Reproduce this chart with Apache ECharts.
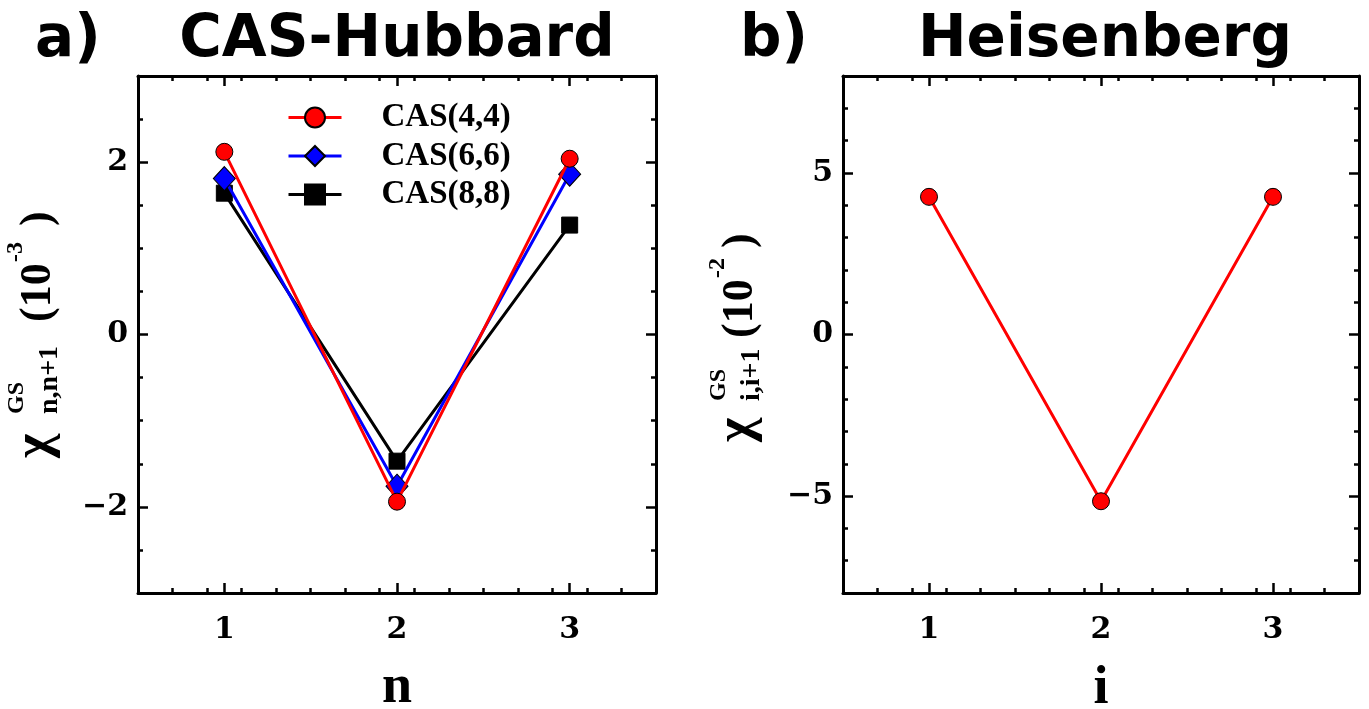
<!DOCTYPE html>
<html>
<head>
<meta charset="utf-8">
<script src="https://cdn.jsdelivr.net/npm/echarts@6/dist/echarts.min.js"></script>
<style>
html, body { margin: 0; padding: 0; background: #ffffff; }
#chart { width: 1369px; height: 709px; }
</style>
</head>
<body>
<div id="chart"></div>
<script>
// Site index along the chain
const sites = [1, 2, 3];

// Ground-state correlation, CAS-Hubbard (units of 1e-3)
const cas44 = [2.12, -1.94, 2.04];
const cas66 = [1.81, -1.76, 1.86];
const cas88 = [1.64, -1.47, 1.27];

// Ground-state correlation, Heisenberg (units of 1e-2)
const heisenberg = [4.26, -5.16, 4.26];

// Tick labels
const xTickValues = [1, 2, 3];
const yTickValuesA = [-2, 0, 2];
const yTickValuesB = [-5, 0, 5];

const legendNames = ['CAS(4,4)', 'CAS(6,6)', 'CAS(8,8)'];

const SERIF = 'Liberation Serif';
const TICKFONT = 'DejaVu Serif';
const SANS = 'DejaVu Sans';

function steps(min, max, step, skip) {
  const out = [];
  const n = Math.round((max - min) / step);
  for (let k = 1; k < n; k++) {
    const v = +(min + k * step).toFixed(6);
    if (!skip.some(s => Math.abs(s - v) < 1e-9)) out.push(v);
  }
  return out;
}

function fmt(v) {
  return v < 0 ? '\u2212' + Math.abs(v) : String(v);
}

// Four axes per direction and grid: major + minor ticks on both sides of the frame
function frameAxes(gridIndex, sides, min, max, major, minor, labelStyle, nameOpt) {
  const axes = [];
  sides.forEach((pos, si) => {
    [true, false].forEach(isMajor => {
      const ax = {
        type: 'value', gridIndex: gridIndex, position: pos, min: min, max: max,
        axisLine: { show: isMajor, onZero: false, lineStyle: { color: '#000', width: 3 } },
        axisTick: {
          show: true, inside: true, length: isMajor ? 10 : 5,
          customValues: isMajor ? major : minor,
          lineStyle: { color: '#000', width: 2.5 }
        },
        axisLabel: { show: false },
        splitLine: { show: false }
      };
      if (isMajor && si === 0) {
        ax.axisLabel = Object.assign({ show: true, customValues: major, formatter: fmt }, labelStyle);
        if (nameOpt) Object.assign(ax, nameOpt);
      }
      axes.push(ax);
    });
  });
  return axes;
}

const tickFont = { fontFamily: TICKFONT, fontWeight: 'bold', fontSize: 30, color: '#000' };
const nameFont = { fontFamily: SERIF, fontWeight: 'bold', fontSize: 54, color: '#000' };

const xMinor = steps(0.5, 3.5, 0.2, xTickValues);
const yMinorA = steps(-3, 3, 0.5, yTickValuesA);
const yMinorB = steps(-8, 8, 1, yTickValuesB);

const xAxes = [].concat(
  frameAxes(0, ['bottom', 'top'], 0.5, 3.5, xTickValues, xMinor,
    Object.assign({ margin: 22 }, tickFont),
    { name: 'n', nameLocation: 'middle', nameGap: 68, nameTextStyle: nameFont }),
  frameAxes(1, ['bottom', 'top'], 0.5, 3.5, xTickValues, xMinor,
    Object.assign({ margin: 22 }, tickFont),
    { name: 'i', nameLocation: 'middle', nameGap: 69, nameTextStyle: nameFont })
);
const yAxes = [].concat(
  frameAxes(0, ['left', 'right'], -3, 3, yTickValuesA, yMinorA,
    Object.assign({ margin: 10 }, tickFont), null),
  frameAxes(1, ['left', 'right'], -8, 8, yTickValuesB, yMinorB,
    Object.assign({ margin: 10 }, tickFont), null)
);

function pairs(ys) { return sites.map((x, k) => [x, ys[k]]); }

function lineSeries(name, ys, color, symbol, size, z, xi, yi) {
  return {
    name: name, type: 'line', xAxisIndex: xi, yAxisIndex: yi, z: z,
    data: pairs(ys), symbol: symbol, symbolSize: size, showAllSymbol: true,
    lineStyle: { color: color, width: 3 },
    itemStyle: { color: color, borderColor: '#000', borderWidth: 1 },
    emphasis: { disabled: true }, animation: false
  };
}

// Rotated y-axis title built from pieces (main symbol, super/subscripts)
function rotatedLabel(x0, y0, parts) {
  return {
    type: 'group', x: x0, y: y0, rotation: Math.PI / 2,
    children: parts.map(p => ({
      type: 'text', x: p.lx, y: p.ly - 0.33 * p.fs,
      style: {
        text: p.text, fontFamily: SERIF, fontWeight: 'bold', fontSize: p.fs,
        fill: '#000', align: 'left', verticalAlign: 'middle'
      }
    }))
  };
}

const titleStyle = { fontFamily: SANS, fontWeight: 'bold', fontSize: 58, fill: '#000' };

const option = {
  backgroundColor: '#ffffff',
  animation: false,
  grid: [
    { left: 138, right: 713, top: 76, bottom: 116, outerBoundsMode: 'none', containLabel: false },
    { left: 843, right: 10, top: 76, bottom: 116, outerBoundsMode: 'none', containLabel: false }
  ],
  xAxis: xAxes,
  yAxis: yAxes,
  legend: {
    data: legendNames.map(n => ({ name: n, lineStyle: { width: 3 } })),
    orient: 'vertical', left: 282, top: 96,
    itemWidth: 53, itemHeight: 25, itemGap: 5.5,
    lineStyle: { width: 3 },
    textStyle: { fontFamily: SERIF, fontWeight: 'bold', fontSize: 33, color: '#000', padding: [0, 0, 0, 35] },
    selectedMode: false
  },
  series: [
    lineSeries(legendNames[2], cas88, '#000000', 'rect', 16, 2, 0, 0),
    lineSeries(legendNames[1], cas66, '#0000ff', 'diamond', [22, 24], 3, 0, 0),
    lineSeries(legendNames[0], cas44, '#ff0000', 'circle', 17, 4, 0, 0),
    lineSeries('Heisenberg', heisenberg, '#ff0000', 'circle', 17, 4, 4, 4)
  ],
  graphic: [
    { type: 'text', x: 35, y: 41, style: Object.assign({ text: 'a)', align: 'left', verticalAlign: 'middle' }, titleStyle) },
    { type: 'text', x: 397, y: 41, style: Object.assign({ text: 'CAS-Hubbard', align: 'center', verticalAlign: 'middle' }, titleStyle) },
    { type: 'text', x: 740, y: 41, style: Object.assign({ text: 'b)', align: 'left', verticalAlign: 'middle' }, titleStyle) },
    { type: 'text', x: 1105, y: 41, style: Object.assign({ text: 'Heisenberg', align: 'center', verticalAlign: 'middle' }, titleStyle) },
    rotatedLabel(53, 458, [
      { text: '\u03c7', lx: 0, ly: 0, fs: 52 },
      { text: 'GS', lx: 44, ly: -28, fs: 24 },
      { text: 'n,n+1', lx: 44, ly: 6, fs: 28 },
      { text: '(10', lx: 136, ly: 0, fs: 44 },
      { text: '-3', lx: 196, ly: -29, fs: 24 },
      { text: ')', lx: 232, ly: 0, fs: 44 }
    ]),
    rotatedLabel(755, 442, [
      { text: '\u03c7', lx: 0, ly: 0, fs: 52 },
      { text: 'GS', lx: 41, ly: -28, fs: 24 },
      { text: 'i,i+1', lx: 41, ly: 6, fs: 28 },
      { text: '(10', lx: 104, ly: 0, fs: 44 },
      { text: '-2', lx: 164, ly: -29, fs: 24 },
      { text: ')', lx: 194, ly: 0, fs: 44 }
    ])
  ]
};

const chart = echarts.init(document.getElementById('chart'), null, { renderer: 'canvas' });
chart.setOption(option);
</script>
</body>
</html>
